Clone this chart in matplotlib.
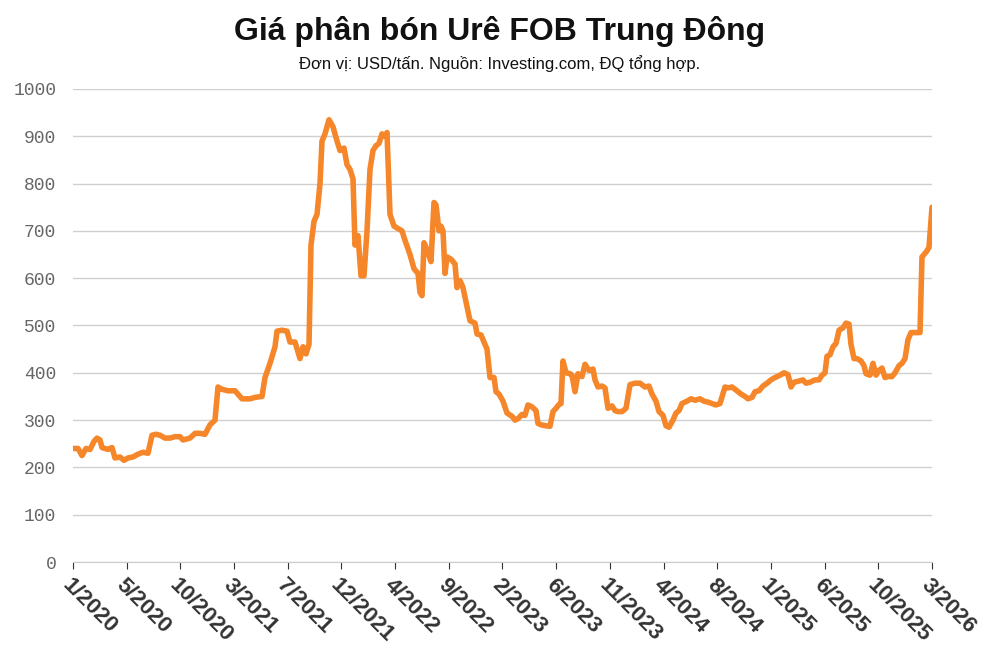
import numpy as np
import matplotlib
matplotlib.use("Agg")
import matplotlib.pyplot as plt

# time axis: units where 0 = 1/2020 and 859 = 3/2026
t = [0,5,9,13,17,21,24,27,29,35,39,42,47,51,55,60,65,70,75,79,83,87,92,97,102,107,110,117,122,127,132,137,142,145,149,155,162,169,177,182,189,192,197,202,204,209,214,217,222,227,230,233,236,238,241,244,247,249,252,256,260,264,267,271,274,277,280,282,285,288,291,294,297,300,303,306,309,312,314,317,321,325,329,332,337,341,345,347,349,351,354,358,361,363,366,368,370,372,374,378,382,384,387,390,393,397,402,404,408,411,414,417,421,423,426,430,434,439,442,445,449,452,455,459,463,465,468,473,477,480,483,486,488,490,493,497,499,502,505,509,512,516,520,522,525,529,532,535,539,542,545,549,553,557,562,567,572,576,579,583,586,590,593,596,600,603,606,609,614,618,622,627,631,635,639,643,647,652,655,659,664,668,672,675,679,682,686,690,694,698,702,707,711,715,718,721,725,730,733,737,742,746,749,752,754,757,760,763,766,770,773,776,778,781,784,788,791,793,797,800,803,806,809,812,815,819,822,826,829,832,835,838,844,847,849,853,856,859]
price = [240,240,225,240,238,255,262,258,242,238,242,220,222,215,220,222,228,232,230,268,270,268,262,262,265,265,258,262,272,272,270,290,300,370,365,362,362,345,345,348,350,390,420,455,488,490,488,465,465,430,455,440,460,670,720,735,800,890,905,935,920,890,870,875,840,830,810,670,690,605,605,700,830,870,880,885,905,900,908,735,710,705,700,680,650,620,610,570,563,675,660,635,760,755,700,710,700,610,645,640,630,580,595,580,550,510,505,482,480,465,450,390,390,360,355,340,315,308,300,303,312,310,332,328,320,293,290,288,287,318,325,333,335,425,400,398,395,360,398,392,418,405,408,385,370,372,368,325,330,320,318,318,325,375,378,378,370,372,355,340,318,310,288,285,300,315,320,335,340,345,342,345,340,338,335,332,335,370,368,370,362,355,350,345,348,360,362,372,378,385,390,395,400,396,370,380,382,385,378,380,385,385,395,400,435,438,455,462,490,495,505,503,460,430,430,425,415,398,395,420,395,405,410,390,392,392,400,415,420,430,470,485,485,485,645,655,665,750]
tick_labels = ["1/2020","5/2020","10/2020","3/2021","7/2021","12/2021","4/2022","9/2022",
               "2/2023","6/2023","11/2023","4/2024","8/2024","1/2025","6/2025","10/2025","3/2026"]
y_ticks = list(range(0, 1001, 100))

fig = plt.figure(figsize=(10, 6.67), dpi=100)
ax = fig.add_axes([0.073, 0.1574, 0.859, 0.7092])
ax.plot(t, price, color="#f5862a", lw=4, solid_joinstyle="round", solid_capstyle="round")
ax.set_xlim(0, 859)
ax.set_ylim(0, 1000)
ax.set_yticks(y_ticks)
ax.set_yticklabels([str(v) for v in y_ticks], family="Liberation Mono", fontsize=13, color="#666666")
ax.set_xticks(np.linspace(0, 859, len(tick_labels)))
ax.set_xticklabels(tick_labels, rotation=-45, ha="left", va="top", rotation_mode="anchor",
                   fontsize=16, fontweight="bold", color="#333333", family="Liberation Sans")
ax.grid(axis="y", color="#d0d0d0", lw=1)
ax.set_axisbelow(True)
for s in ["top", "right", "left"]:
    ax.spines[s].set_visible(False)
ax.spines["bottom"].set_color("#cccccc")
ax.tick_params(axis="y", length=0, pad=12)
ax.tick_params(axis="x", length=5, color="#333333", pad=4)
fig.text(0.5, 0.953, "Giá phân bón Urê FOB Trung Đông", ha="center", va="center",
         fontsize=23, fontweight="bold", color="#111111", family="Liberation Sans")
fig.text(0.5, 0.905, "Đơn vị: USD/tấn. Nguồn: Investing.com, ĐQ tổng hợp.", ha="center", va="center",
         fontsize=12, color="#111111", family="Liberation Sans")
fig.savefig("out.png", dpi=100)
